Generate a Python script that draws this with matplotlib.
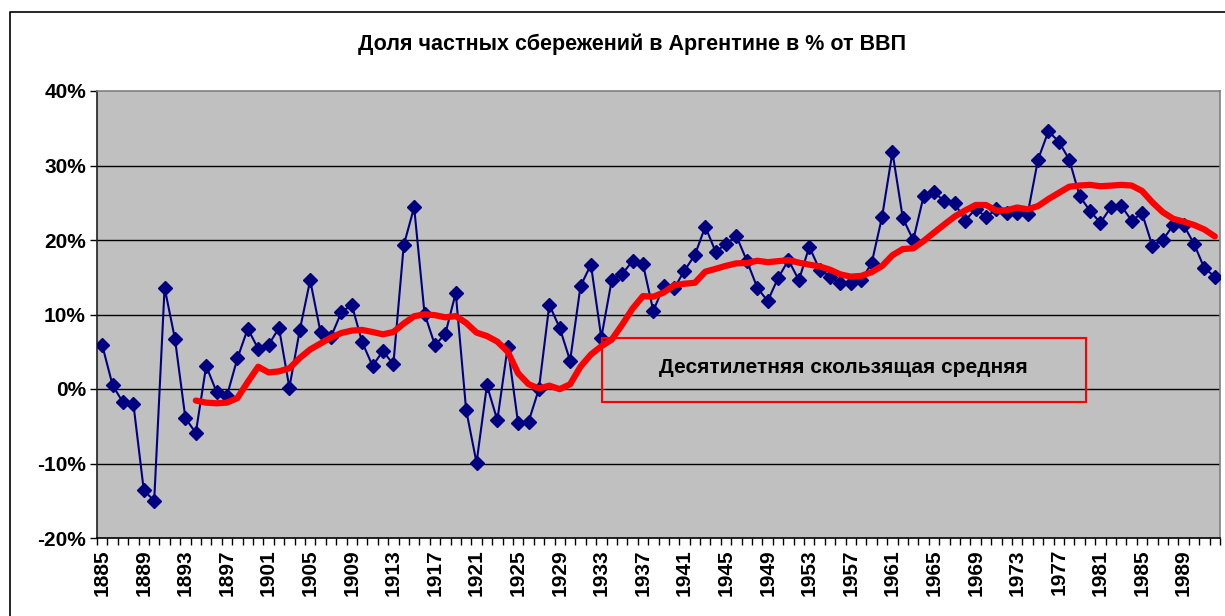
import matplotlib
matplotlib.use("Agg")
import matplotlib.pyplot as plt
import numpy as np
import pandas as pd
from matplotlib.lines import Line2D
from matplotlib.patches import Rectangle

# savings share, % of GDP, 1885..1992
years = list(range(1885, 1993))
savings = [
    5.9, 0.5, -1.8, -2.0, -13.6, -15.0, 13.6, 6.7, -3.9, -5.9,   # 1885-1894
    3.1, -0.4, -0.9, 4.1, 8.1, 5.4, 5.9, 8.2, 0.2, 7.9,          # 1895-1904
    14.6, 7.6, 7.0, 10.3, 11.3, 6.3, 3.1, 5.1, 3.3, 19.3,        # 1905-1914
    24.4, 10.1, 5.9, 7.4, 12.9, -2.8, -9.9, 0.5, -4.2, 5.7,      # 1915-1924
    -4.6, -4.4, 0.0, 11.3, 8.2, 3.8, 13.8, 16.7, 6.9, 14.6,      # 1925-1934
    15.4, 17.2, 16.8, 10.5, 13.8, 13.5, 15.9, 18.0, 21.8, 18.4,  # 1935-1944
    19.5, 20.5, 17.2, 13.6, 11.8, 14.9, 17.3, 14.6, 19.1, 16.0,  # 1945-1954
    15.1, 14.2, 14.2, 14.6, 16.9, 23.1, 31.8, 22.9, 20.0, 25.9,  # 1955-1964
    26.4, 25.2, 24.9, 22.6, 24.2, 23.1, 24.1, 23.6, 23.6, 23.5,  # 1965-1974
    30.8, 34.6, 33.2, 30.8, 25.9, 23.9, 22.3, 24.4, 24.6, 22.6,  # 1975-1984
    23.6, 19.2, 20.0, 22.0, 22.0, 19.5, 16.2, 15.1,              # 1985-1992
]
title = "Доля частных сбережений в Аргентине в % от ВВП"
note = "Десятилетняя скользящая средняя"

# 10-year trailing moving average (as the Excel trendline)
ma = pd.Series(savings).rolling(10).mean()

plt.rcParams['font.family'] = ['Liberation Sans', 'DejaVu Sans']

fig = plt.figure(figsize=(12.25, 6.16), dpi=100)
ax = fig.add_axes([97/1225, 1-538/616, 1123/1225, 447/616])
ax.set_facecolor('#c0c0c0')

x = np.arange(len(years))
ax.plot(x, savings, color='#000080', lw=1.5, marker='D', ms=7.5,
        mfc='#000080', mec='#000080', zorder=3)
ax.plot(x, ma, color='#ff0000', lw=4.5, solid_capstyle='round', zorder=4)

ax.set_xlim(-0.5, len(years) - 0.5)
ax.set_ylim(-20, 40)

yt = [-20, -10, 0, 10, 20, 30, 40]
ax.set_yticks(yt)
ax.set_yticklabels([f"{v}%" for v in yt], fontsize=15, fontweight='bold')
for v in yt[1:-1]:
    ax.axhline(v, color='black', lw=1, zorder=1)

ax.set_xticks(x[::4])
ax.set_xticklabels([str(y) for y in years[::4]], rotation=90,
                   fontsize=15, fontweight='bold')
ax.set_xticks(np.arange(len(years) + 1) - 0.5, minor=True)
ax.tick_params(axis='x', which='major', length=0, pad=8)
ax.tick_params(axis='x', which='minor', length=5, width=1, direction='out')
ax.tick_params(axis='y', length=5, width=1, direction='out', pad=3)

ax.spines['left'].set_color('#202020')
ax.spines['bottom'].set_color('black')
ax.spines['top'].set_color('#808080')
ax.spines['right'].set_color('#808080')
for s in ax.spines.values():
    s.set_linewidth(1.2)

# text box for the moving average
ax.add_patch(Rectangle((0.4497, 0.3043), 0.431, 0.1432, transform=ax.transAxes,
                       fill=False, ec='#ff0000', lw=1.5, zorder=6))
ax.text(0.6645, 0.381, note, transform=ax.transAxes, ha='center', va='center',
        fontsize=15, fontweight='bold', zorder=7)

fig.text(632/1225, 1-44/616, title, ha='center', va='center',
         fontsize=15.5, fontweight='bold')

# chart area border (right and bottom edges fall outside the picture)
fig.add_artist(Line2D([10/1225, 10/1225, 1.01], [-0.01, 1-12/616, 1-12/616],
                      color='black', lw=1.2, transform=fig.transFigure))

fig.savefig('out.png', dpi=100)
